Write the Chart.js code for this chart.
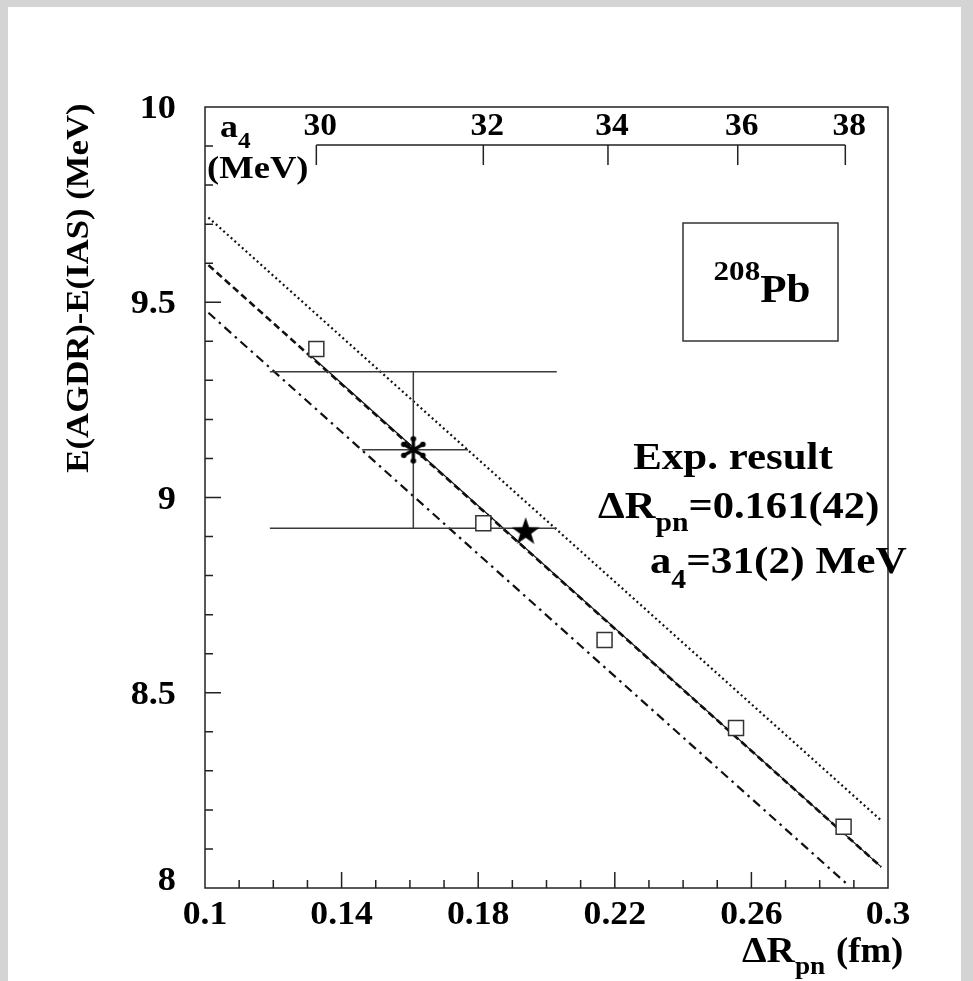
<!DOCTYPE html>
<html>
<head>
<meta charset="utf-8">
<script src="https://cdn.jsdelivr.net/npm/chart.js@4.4.1/dist/chart.umd.min.js"></script>
<style>
html,body{margin:0;padding:0;background:#d4d4d4;overflow:hidden}
#wrap{position:absolute;left:0;top:0;width:973px;height:981px}
</style>
</head>
<body>
<div id="wrap"><canvas id="c"></canvas></div>
<script>
// ---------------- data ----------------
const xTickValues = [0.1, 0.14, 0.18, 0.22, 0.26, 0.3];
const xTickLabels = ['0.1', '0.14', '0.18', '0.22', '0.26', '0.3'];
const yTickValues = [8, 8.5, 9, 9.5, 10];
const yTickLabels = ['8', '8.5', '9', '9.5', '10'];

// model calculations (open squares), a4 = 30..38 MeV
const modelDeltaR = [0.1326, 0.1815, 0.2170, 0.2555, 0.2870];
const modelEnergy = [9.380, 8.934, 8.635, 8.410, 8.157];
const a4Labels = ['30', '32', '34', '36', '38'];
const a4DeltaR = [0.1326, 0.1815, 0.2180, 0.2560, 0.2875];

// straight lines
const dottedX = [0.101, 0.298];  const dottedY = [9.717, 8.173];
const dashedX = [0.101, 0.298];  const dashedY = [9.595, 8.054];
const dashDotX = [0.101, 0.288]; const dashDotY = [9.473, 8.010];
const fitX = [0.1310, 0.298];    const fitY = [9.363, 8.054];

// experimental result
const expDeltaR = [0.161];  const expEnergy = [9.122];
const expDeltaRSys = [0.119, 0.203];
const expDeltaRStat = [0.146, 0.177];
const expEnergyErr = [8.921, 9.322];

// filled star
const starDeltaR = [0.1939]; const starEnergy = [8.915];

// ---------------- helpers ----------------
const pts = (xs, ys) => xs.map((x, i) => ({x: x, y: ys[i]}));
const FONT = '"Liberation Serif", "Times New Roman", serif';

function makeAsterisk() {
  const c = document.createElement('canvas');
  c.width = c.height = 32;
  const g = c.getContext('2d');
  g.strokeStyle = '#000'; g.fillStyle = '#000';
  g.lineWidth = 3.2; g.lineCap = 'round';
  const r = 11;
  for (const a of [90, 30, 150]) {
    const t = a * Math.PI / 180;
    const dx = r * Math.cos(t), dy = r * Math.sin(t);
    g.beginPath(); g.moveTo(16 - dx, 16 - dy); g.lineTo(16 + dx, 16 + dy); g.stroke();
    g.beginPath(); g.arc(16 - dx, 16 - dy, 2.8, 0, 2 * Math.PI); g.fill();
    g.beginPath(); g.arc(16 + dx, 16 + dy, 2.8, 0, 2 * Math.PI); g.fill();
  }
  return c;
}
function makeStar() {
  const c = document.createElement('canvas');
  c.width = c.height = 32;
  const g = c.getContext('2d');
  g.fillStyle = '#000';
  g.beginPath();
  for (let i = 0; i < 10; i++) {
    const r = i % 2 ? 5.8 : 14.8;
    const t = -Math.PI / 2 + i * Math.PI / 5;
    const px = 16 + r * Math.cos(t), py = 17.3 + r * Math.sin(t);
    if (i === 0) g.moveTo(px, py); else g.lineTo(px, py);
  }
  g.closePath(); g.fill();
  return c;
}

function partWidth(ctx, p) {
  ctx.font = 'bold ' + p.f + 'px ' + FONT;
  return ctx.measureText(p.t).width * (p.sx || 1);
}
function runs(ctx, parts, x, y, align) {
  let w = 0;
  for (const p of parts) w += partWidth(ctx, p);
  let cx = align === 'center' ? x - w / 2 : (align === 'right' ? x - w : x);
  for (const p of parts) {
    const pw = partWidth(ctx, p);
    ctx.save();
    ctx.font = 'bold ' + p.f + 'px ' + FONT;
    ctx.translate(cx, y + (p.dy || 0));
    ctx.scale(p.sx || 1, 1);
    ctx.textAlign = 'left';
    ctx.textBaseline = 'alphabetic';
    ctx.fillStyle = '#000';
    ctx.fillText(p.t, 0, 0);
    ctx.restore();
    cx += pw;
  }
}

const decorPlugin = {
  id: 'decor',
  beforeDraw(chart) {
    const ctx = chart.ctx;
    ctx.save();
    ctx.fillStyle = '#d4d4d4';
    ctx.fillRect(0, 0, chart.width, chart.height);
    ctx.fillStyle = '#ffffff';
    ctx.fillRect(8, 7, 953, chart.height - 7);
    ctx.restore();
  },
  afterDraw(chart) {
    const ctx = chart.ctx;
    const xs = chart.scales.x, ys = chart.scales.y;
    const a = chart.chartArea;
    ctx.save();
    ctx.strokeStyle = '#222';
    ctx.lineWidth = 1.5;
    // frame
    ctx.strokeRect(a.left, a.top, a.right - a.left, a.bottom - a.top);
    // y ticks (inside, from left axis)
    ctx.beginPath();
    for (let k = 81; k < 100; k++) {
      const v = k / 10;
      const py = ys.getPixelForValue(v);
      const len = (k % 5 === 0) ? 16 : 8;
      ctx.moveTo(a.left, py); ctx.lineTo(a.left + len, py);
    }
    // x ticks (inside, from bottom axis)
    for (let k = 11; k < 30; k++) {
      const v = k / 100;
      const px = xs.getPixelForValue(v);
      const len = ((k - 10) % 4 === 0) ? 16 : 8;
      ctx.moveTo(px, a.bottom); ctx.lineTo(px, a.bottom - len);
    }
    ctx.stroke();

    // a4 secondary axis
    const a4y = 145;
    ctx.beginPath();
    ctx.moveTo(xs.getPixelForValue(a4DeltaR[0]), a4y);
    ctx.lineTo(xs.getPixelForValue(a4DeltaR[a4DeltaR.length - 1]), a4y);
    a4DeltaR.forEach(v => {
      const px = xs.getPixelForValue(v);
      ctx.moveTo(px, a4y); ctx.lineTo(px, a4y + 20);
    });
    ctx.stroke();
    a4DeltaR.forEach((v, i) => {
      runs(ctx, [{t: a4Labels[i], f: 31, sx: 1.08}], xs.getPixelForValue(v) + 4, 135, 'center');
    });
    runs(ctx, [{t: 'a', f: 32, sx: 1.12}, {t: '4', f: 23, sx: 1.1, dy: 11}, ], 220, 137, 'left');
    runs(ctx, [{t: '(MeV)', f: 31, sx: 1.18}], 207, 178, 'left');

    // tick labels
    xTickValues.forEach((v, i) => {
      runs(ctx, [{t: xTickLabels[i], f: 34, sx: 1.05}], xs.getPixelForValue(v), 924, 'center');
    });
    yTickValues.forEach((v, i) => {
      const shift = (i === 0) ? -9 : 0;
      runs(ctx, [{t: yTickLabels[i], f: 33, sx: 1.1}], 176, ys.getPixelForValue(v) + 11 + shift, 'right');
    });

    // axis titles
    runs(ctx, [{t: '\u0394R', f: 35, sx: 1.12}, {t: 'pn', f: 26, sx: 1.05, dy: 12}], 742, 962, 'left');
    runs(ctx, [{t: '(fm)', f: 35, sx: 1.05}], 836, 962, 'left');
    ctx.save();
    ctx.translate(88, 288);
    ctx.rotate(-Math.PI / 2);
    runs(ctx, [{t: 'E(AGDR)-E(IAS) (MeV)', f: 31, sx: 1.12}], 0, 0, 'center');
    ctx.restore();

    // 208Pb box
    ctx.strokeStyle = '#333';
    ctx.lineWidth = 1.5;
    ctx.strokeRect(683, 223, 155, 118);
    runs(ctx, [{t: '208', f: 27, sx: 1.15, dy: -22}, {t: 'Pb', f: 41, sx: 1.05}], 762, 302, 'center');

    // experimental result text
    runs(ctx, [{t: 'Exp. result', f: 37, sx: 1.16}], 733, 469, 'center');
    runs(ctx, [{t: '\u0394R', f: 37, sx: 1.15}, {t: 'pn', f: 27, sx: 1.1, dy: 13}, {t: '=0.161(42)', f: 37, sx: 1.15}], 598, 518, 'left');
    runs(ctx, [{t: 'a', f: 37, sx: 1.15}, {t: '4', f: 27, sx: 1.1, dy: 15}, {t: '=31(2) MeV', f: 37, sx: 1.17}], 650, 573, 'left');
    ctx.restore();
  }
};

const lineDs = (label, xs, ys, dash, w, order) => ({
  label: label, data: pts(xs, ys), showLine: true, borderColor: '#111',
  borderWidth: w, borderDash: dash, pointRadius: 0, fill: false, order: order
});
const errDs = (label, xs, ys) => ({
  label: label, data: pts(xs, ys), showLine: true, borderColor: '#3a3a3a',
  borderWidth: 1.5, pointRadius: 0, fill: false, order: 5
});

new Chart(document.getElementById('c'), {
  type: 'scatter',
  data: {
    datasets: [
      lineDs('dotted', dottedX, dottedY, [2, 3], 2.2, 9),
      lineDs('dashed', dashedX, dashedY, [7, 4], 2.6, 8),
      lineDs('dash-dot', dashDotX, dashDotY, [9, 5, 2.5, 5], 2.2, 7),
      lineDs('fit', fitX, fitY, [], 1.2, 6),
      errDs('sys high', expDeltaRSys, [expEnergyErr[1], expEnergyErr[1]]),
      errDs('sys low', expDeltaRSys, [expEnergyErr[0], expEnergyErr[0]]),
      errDs('energy err', [expDeltaR[0], expDeltaR[0]], expEnergyErr),
      errDs('stat', expDeltaRStat, [expEnergy[0], expEnergy[0]]),
      {label: 'model', data: pts(modelDeltaR, modelEnergy), pointStyle: 'rect', pointRadius: 10.6,
       pointBorderWidth: 1.5, pointBorderColor: '#333', pointBackgroundColor: '#fff', showLine: false, order: 2},
      {label: 'exp', data: pts(expDeltaR, expEnergy), pointStyle: makeAsterisk(), pointRadius: 16, showLine: false, order: 1},
      {label: 'star', data: pts(starDeltaR, starEnergy), pointStyle: makeStar(), pointRadius: 16, showLine: false, order: 1}
    ]
  },
  options: {
    responsive: true,
    maintainAspectRatio: false,
    animation: false,
    layout: {padding: {left: 205, right: 85, top: 107, bottom: 93}},
    plugins: {legend: {display: false}, tooltip: {enabled: false}},
    scales: {
      x: {type: 'linear', min: 0.1, max: 0.3, display: false},
      y: {type: 'linear', min: 8, max: 10, display: false}
    }
  },
  plugins: [decorPlugin]
});
</script>
</body>
</html>
